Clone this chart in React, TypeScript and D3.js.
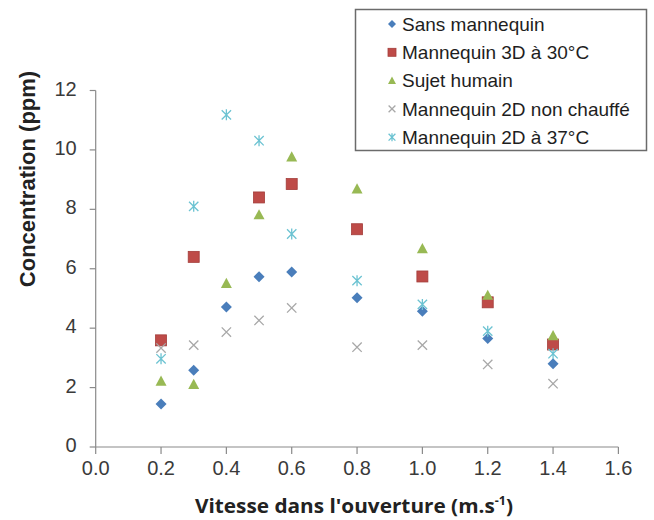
import React from "react"
import * as d3 from "d3"

// vitesse dans l'ouverture (m/s)
const speeds = [0.2, 0.3, 0.4, 0.5, 0.6, 0.8, 1.0, 1.2, 1.4]

// concentrations (ppm), null = pas de mesure
const sansMannequin = [1.45, 2.58, 4.71, 5.73, 5.89, 5.02, 4.57, 3.65, 2.8]
const mannequin3D30 = [3.59, 6.4, null, 8.4, 8.85, 7.33, 5.74, 4.87, 3.45]
const sujetHumain = [2.22, 2.11, 5.51, 7.82, 9.77, 8.69, 6.68, 5.11, 3.75]
const mannequin2DNonChauffe = [3.33, 3.43, 3.87, 4.26, 4.68, 3.36, 3.43, 2.78, 2.13]
const mannequin2D37 = [2.97, 8.1, 11.18, 10.31, 7.17, 5.6, 4.8, 3.9, 3.14]

const xTicks = [0, 0.2, 0.4, 0.6, 0.8, 1.0, 1.2, 1.4, 1.6]
const yTicks = [0, 2, 4, 6, 8, 10, 12]

type Shape = "diamond" | "square" | "triangle" | "cross" | "star"

const series: { name: string; values: (number | null)[]; shape: Shape; color: string }[] = [
  { name: "Sans mannequin", values: sansMannequin, shape: "diamond", color: "#4a7ebb" },
  { name: "Mannequin 3D à 30°C", values: mannequin3D30, shape: "square", color: "#be4b48" },
  { name: "Sujet humain", values: sujetHumain, shape: "triangle", color: "#98b954" },
  { name: "Mannequin 2D non chauffé", values: mannequin2DNonChauffe, shape: "cross", color: "#a8a8a8" },
  { name: "Mannequin 2D à 37°C", values: mannequin2D37, shape: "star", color: "#6cc3d2" },
]

const W = 654
const H = 520
const x = d3.scaleLinear().domain([0, 1.6]).range([95.7, 618.4])
const y = d3.scaleLinear().domain([0, 12]).range([447, 90.5])

const Marker = ({ shape, color, cx, cy, s }: { shape: Shape; color: string; cx: number; cy: number; s: number }) => {
  const h = s / 2
  if (shape === "diamond") {
    return <path d={`M${cx},${cy - h}L${cx + h},${cy}L${cx},${cy + h}L${cx - h},${cy}Z`} fill={color} />
  }
  if (shape === "square") {
    return <rect x={cx - h} y={cy - h} width={s} height={s} fill={color} stroke="#a33d3a" strokeWidth={0.8} />
  }
  if (shape === "triangle") {
    return <path d={`M${cx},${cy - h}L${cx + h},${cy + h * 0.85}L${cx - h},${cy + h * 0.85}Z`} fill={color} />
  }
  const k = h * 0.85
  if (shape === "cross") {
    return (
      <path d={`M${cx - k},${cy - k}L${cx + k},${cy + k}M${cx - k},${cy + k}L${cx + k},${cy - k}`} stroke={color} strokeWidth={1.3} fill="none" />
    )
  }
  return (
    <path
      d={`M${cx - k},${cy - k}L${cx + k},${cy + k}M${cx - k},${cy + k}L${cx + k},${cy - k}M${cx},${cy - h}L${cx},${cy + h}`}
      stroke={color}
      strokeWidth={1.3}
      fill="none"
    />
  )
}

export default function App() {
  const axisColor = "#8a8a8a"
  const tickColor = "#3a3a3a"
  const font = "'Liberation Sans', Arial, sans-serif"

  return (
    <svg width={W} height={H} style={{ position: "absolute", left: 0, top: 0, background: "#fff" }}>
      <rect width={W} height={H} fill="#fff" />

      {/* axes */}
      <g stroke={axisColor} strokeWidth={1.2} fill="none">
        <line x1={x(0)} x2={x(0)} y1={y(12)} y2={y(0)} />
        <line x1={x(0)} x2={x(1.6)} y1={y(0)} y2={y(0)} />
        {yTicks.map((t) => (
          <line key={"yt" + t} x1={x(0) - 6} x2={x(0)} y1={y(t)} y2={y(t)} />
        ))}
        {xTicks.map((t) => (
          <line key={"xt" + t} x1={x(t)} x2={x(t)} y1={y(0)} y2={y(0) + 7} />
        ))}
      </g>

      <g fontFamily={font} fontSize={20} fill={tickColor}>
        {yTicks.map((t) => (
          <text key={"yl" + t} x={x(0) - 19} y={y(t) - 2} dy="0.35em" textAnchor="end">
            {t}
          </text>
        ))}
        {xTicks.map((t) => (
          <text key={"xl" + t} x={x(t)} y={475} textAnchor="middle">
            {d3.format(".1f")(t)}
          </text>
        ))}
      </g>

      {/* titres */}
      <text
        transform="translate(35,179) rotate(-90)"
        textAnchor="middle"
        fontFamily={font}
        fontWeight="bold"
        fontSize={22}
        fill="#222"
      >
        Concentration (ppm)
      </text>
      <text
        x={354}
        y={513}
        textAnchor="middle"
        fontFamily="'Open Sans', sans-serif"
        fontWeight="bold"
        fontSize={20}
        fill="#222"
        textLength={318}
        lengthAdjust="spacingAndGlyphs"
      >
        Vitesse dans l'ouverture (m.s
        <tspan fontSize={12} dy={-8}>
          -1
        </tspan>
        <tspan dy={8}>)</tspan>
      </text>

      {/* points */}
      {series.map((s) => (
        <g key={s.name}>
          {s.values.map((v, i) =>
            v == null ? null : (
              <Marker key={i} shape={s.shape} color={s.color} cx={x(speeds[i])} cy={y(v)} s={s.shape === "diamond" ? 11 : 11} />
            )
          )}
        </g>
      ))}

      {/* légende */}
      <rect x={355.5} y={9.5} width={291} height={141} fill="#fff" stroke="#6b6b6b" strokeWidth={1.5} />
      {series.map((s, i) => {
        const cy = 24 + i * 28.3
        return (
          <g key={"lg" + s.name}>
            <Marker shape={s.shape} color={s.color} cx={392} cy={cy} s={8} />
            <text x={402} y={cy} dy="0.35em" fontFamily={font} fontSize={19} fill="#1e1e1e">
              {s.name}
            </text>
          </g>
        )
      })}
    </svg>
  )
}
